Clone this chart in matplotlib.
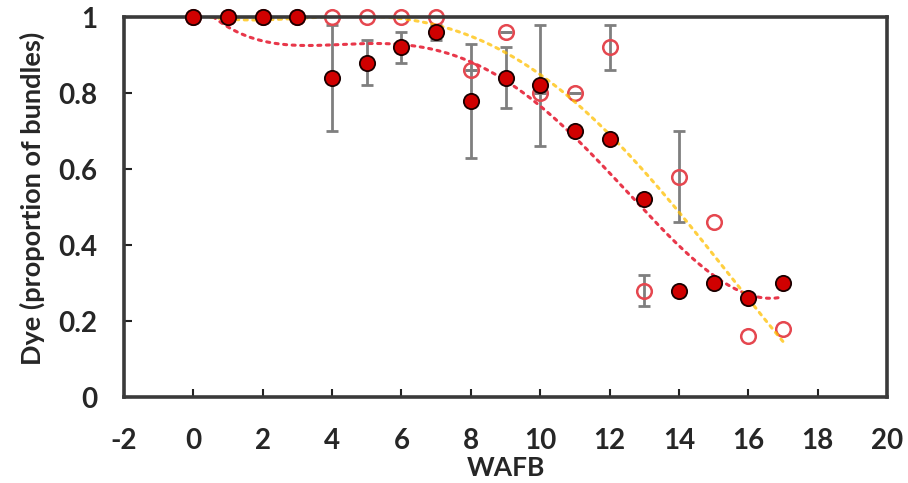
import numpy as np
import matplotlib.pyplot as plt

plt.rcParams['font.family'] = ['Lato', 'DejaVu Sans']
plt.rcParams['font.weight'] = 'bold'
plt.rcParams['axes.unicode_minus'] = False

weeks = list(range(0, 18))
dye_filled = [1, 1, 1, 1, 0.84, 0.88, 0.92, 0.96, 0.78, 0.84, 0.82, 0.70, 0.68, 0.52, 0.28, 0.30, 0.26, 0.30]
err_filled = [np.nan, np.nan, np.nan, np.nan, 0.14, 0.06, 0.04, 0.02, 0.15, 0.08, 0.16,
              np.nan, np.nan, np.nan, np.nan, np.nan, np.nan, np.nan]
dye_open = [1, 1, 1, 1, 1, 1, 1, 1, 0.86, 0.96, 0.80, 0.80, 0.92, 0.28, 0.58, 0.46, 0.16, 0.18]
err_open = [np.nan, np.nan, np.nan, np.nan, np.nan, np.nan, np.nan, np.nan, 0, 0, 0, 0, 0.06, 0.04, 0.12,
            np.nan, np.nan, np.nan]
trend_order = 4

fig = plt.figure(figsize=(9.08, 4.83), dpi=100)
ax = fig.add_axes([124 / 908, 86 / 483, 763 / 908, 380 / 483])

# error bars under the markers
ax.errorbar(weeks, dye_open, yerr=err_open, fmt='none', ecolor='#7f7f7f',
            elinewidth=2, capsize=4.5, capthick=2, zorder=2)
ax.errorbar(weeks, dye_filled, yerr=err_filled, fmt='none', ecolor='#7f7f7f',
            elinewidth=2, capsize=4.5, capthick=2, zorder=2)

ax.plot(weeks, dye_open, 'o', ms=10.5, mfc='none', mec='#e5474f', mew=1.8,
        zorder=3, clip_on=False)
ax.plot(weeks, dye_filled, 'o', ms=11, mfc='#d00000', mec='#1a0000', mew=1.3,
        zorder=7, clip_on=False)

# polynomial trend lines, like the spreadsheet ones
xs = np.linspace(min(weeks), max(weeks), 300)
fit_f = np.polyfit(weeks, dye_filled, trend_order)
fit_o = np.polyfit(weeks, dye_open, trend_order)
ax.plot(xs, np.polyval(fit_f, xs), color='#e8374a', lw=2.2, ls=(0, (1, 1.8)),
        dash_capstyle='round', zorder=5)
ax.plot(xs, np.polyval(fit_o, xs), color='#ffc000', lw=2.2, ls=(0, (1, 1.8)),
        dash_capstyle='round', zorder=5, alpha=0.75)

ax.set_xlim(-2, 20)
ax.set_ylim(0, 1)
ax.set_xticks(range(-2, 21, 2))
ax.set_yticks([0, 0.2, 0.4, 0.6, 0.8, 1])
ax.set_yticklabels(['0', '0.2', '0.4', '0.6', '0.8', '1'])

for s in ax.spines.values():
    s.set_color('#3a3a3a')
    s.set_linewidth(2.6)
    s.set_zorder(6)

ax.tick_params(direction='in', length=6, width=1.5, color='#222222',
               labelsize=20, labelcolor='#262626', top=False, right=False)
ax.tick_params(axis='x', pad=22)
ax.tick_params(axis='y', pad=19)

ax.set_xlabel('WAFB', fontsize=19, fontweight='bold', color='#262626', labelpad=2)
fig.text(32 / 908, 1 - 198 / 483, 'Dye (proportion of bundles)', rotation=90,
         ha='center', va='center', fontsize=19.5, fontweight='bold', color='#262626')

fig.savefig('out.png', dpi=100)
